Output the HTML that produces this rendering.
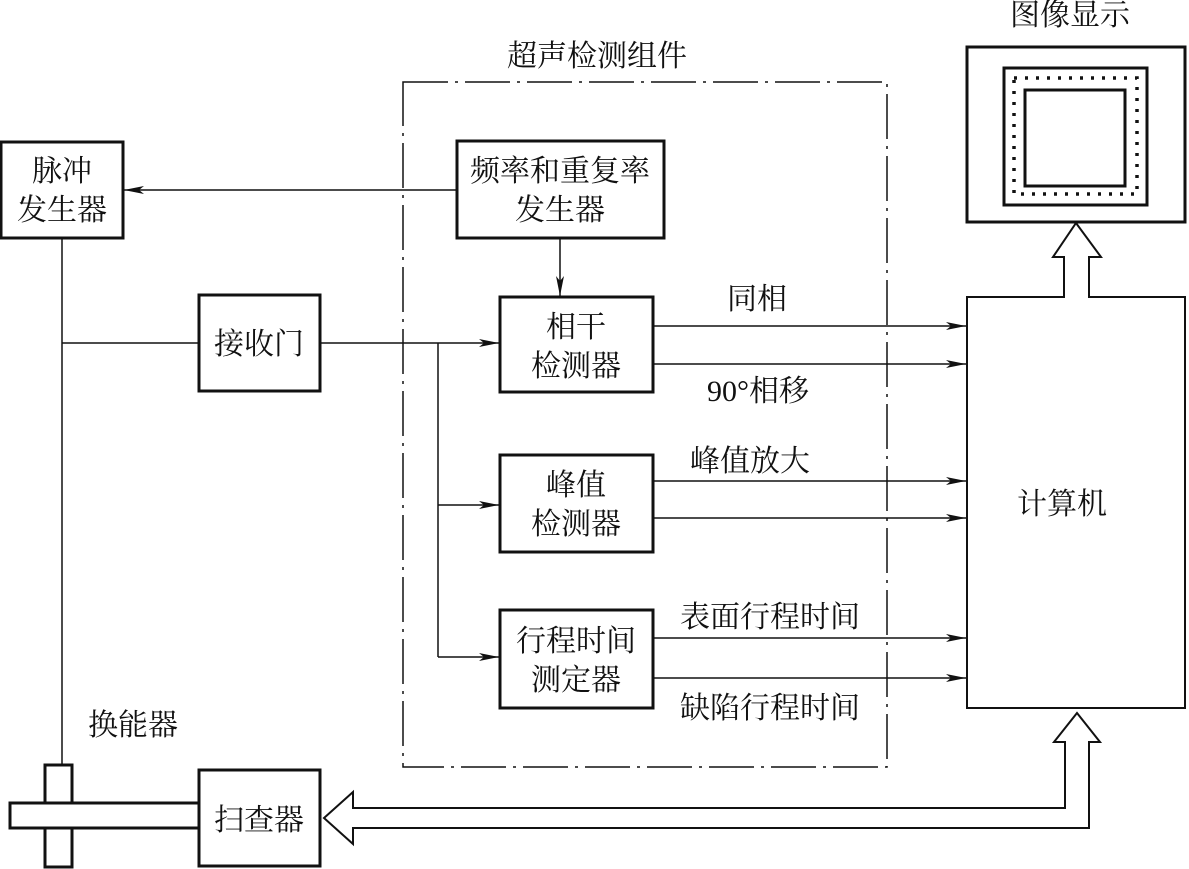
<!DOCTYPE html><html><head><meta charset="utf-8"><style>body{margin:0;background:#fff}svg{display:block}text{font-family:"Liberation Serif","Noto Serif CJK SC","Noto Sans CJK SC",serif;font-size:30px;fill:#111}</style></head><body>
<svg width="1189" height="869" viewBox="0 0 1189 869" xmlns="http://www.w3.org/2000/svg">
<defs><marker id="a" markerWidth="20" markerHeight="10" refX="20" refY="5" orient="auto" markerUnits="userSpaceOnUse"><path d="M0,1 L20,5 L0,9 L5,5Z" fill="#111"/></marker></defs>
<g fill="none" stroke="#111">
<rect x="403" y="82" width="484" height="685" stroke-width="1.5" stroke-dasharray="45,7,3,7"/>
<g stroke-width="3">
<rect x="1" y="142" width="122" height="96"/>
<rect x="457" y="141" width="207" height="97"/>
<rect x="500" y="297" width="153" height="95"/>
<rect x="199" y="295" width="121" height="96"/>
<rect x="500" y="455" width="153" height="97"/>
<rect x="500" y="610" width="153" height="98"/>
<rect x="199" y="770" width="121" height="96"/>
<rect x="967" y="47" width="218" height="175"/>
<rect x="1004" y="68" width="143" height="137"/>
<rect x="1025" y="90" width="100" height="96"/>
<rect x="45" y="765" width="27" height="102"/>
<rect x="10" y="803" width="189" height="25" fill="#fff"/>
</g>
<rect x="1014" y="78" width="123" height="116" stroke-width="3.5" stroke-dasharray="3,8"/>
<path d="M967 297 H1064 V257 H1053 L1076 223 L1101 257 H1089 V297 H1185 V708 H967 Z" stroke-width="2"/>
<path d="M1065 828 V742 H1054 L1077 713 L1100 742 H1089 V828 Z" stroke-width="2" fill="#fff"/>
<path d="M1066 808 H353 V792 L324 818 L353 844 V828 H1088" stroke-width="2" fill="#fff"/>
<g stroke-width="1.5">
<line x1="457" y1="190" x2="124" y2="190" marker-end="url(#a)"/>
<line x1="560" y1="238" x2="560" y2="296" marker-end="url(#a)"/>
<line x1="62" y1="238" x2="62" y2="765"/>
<line x1="62" y1="343" x2="199" y2="343"/>
<line x1="320" y1="343" x2="499" y2="343" marker-end="url(#a)"/>
<line x1="438" y1="343" x2="438" y2="657"/>
<line x1="438" y1="505" x2="499" y2="505" marker-end="url(#a)"/>
<line x1="438" y1="657" x2="499" y2="657" marker-end="url(#a)"/>
<line x1="653" y1="326" x2="966" y2="326" marker-end="url(#a)"/>
<line x1="653" y1="364" x2="966" y2="364" marker-end="url(#a)"/>
<line x1="653" y1="481" x2="966" y2="481" marker-end="url(#a)"/>
<line x1="653" y1="518" x2="966" y2="518" marker-end="url(#a)"/>
<line x1="653" y1="638" x2="966" y2="638" marker-end="url(#a)"/>
<line x1="653" y1="678" x2="966" y2="678" marker-end="url(#a)"/>
</g></g>
<text x="62" y="181" text-anchor="middle">脉冲</text><text x="62" y="220" text-anchor="middle">发生器</text>
<text x="560" y="181" text-anchor="middle">频率和重复率</text><text x="560" y="220" text-anchor="middle">发生器</text>
<text x="576" y="337" text-anchor="middle">相干</text><text x="576" y="376" text-anchor="middle">检测器</text>
<text x="259" y="354" text-anchor="middle">接收门</text>
<text x="576" y="495" text-anchor="middle">峰值</text><text x="576" y="534" text-anchor="middle">检测器</text>
<text x="576" y="651" text-anchor="middle">行程时间</text><text x="576" y="690" text-anchor="middle">测定器</text>
<text x="259" y="830" text-anchor="middle">扫查器</text>
<text x="1062" y="514" text-anchor="middle">计算机</text>
<text x="507" y="66">超声检测组件</text>
<text x="1010" y="25">图像显示</text>
<text x="727" y="309">同相</text>
<text x="707" y="401">90°相移</text>
<text x="690" y="471">峰值放大</text>
<text x="680" y="627">表面行程时间</text>
<text x="680" y="718">缺陷行程时间</text>
<text x="88" y="735">换能器</text>
</svg></body></html>
